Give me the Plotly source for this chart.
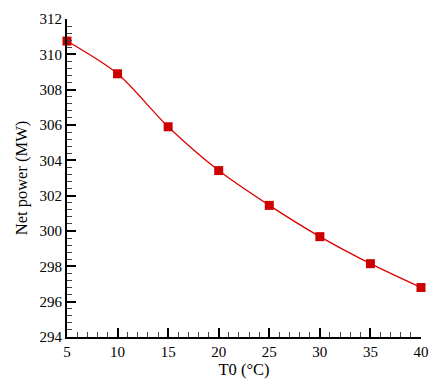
import plotly.graph_objects as go

# Ambient temperature (°C) and net power output (MW)
t0 = [5, 10, 15, 20, 25, 30, 35, 40]
net_power = [310.75, 308.9, 305.9, 303.42, 301.45, 299.68, 298.15, 296.8]

fig = go.Figure()
fig.add_trace(go.Scatter(
    x=t0, y=net_power,
    mode="lines+markers",
    line=dict(color="#DD0000", width=1.3, shape="spline", smoothing=0.8),
    marker=dict(symbol="square", size=9, color="#CC0000", line=dict(width=0)),
    showlegend=False,
    cliponaxis=False,
))

tick_font = dict(family="Liberation Serif", size=15, color="black")
title_font = dict(family="Liberation Serif", size=16.5, color="black")

fig.update_xaxes(
    range=[5, 40], tickvals=[5, 10, 15, 20, 25, 30, 35, 40],
    ticks="inside", ticklen=9, tickwidth=1.5, tickcolor="black",
    minor=dict(ticks="inside", dtick=1, ticklen=5, tickwidth=1, tickcolor="#444"),
    showline=True, linecolor="black", linewidth=2,
    showgrid=False, zeroline=False,
    tickfont=tick_font,
    title=dict(text="T0 (°C)", font=title_font, standoff=0),
)
fig.update_yaxes(
    range=[294, 312], dtick=2,
    ticks="inside", ticklen=9, tickwidth=1.5, tickcolor="black",
    minor=dict(ticks="inside", dtick=0.4, ticklen=5, tickwidth=1, tickcolor="#444"),
    showline=True, linecolor="black", linewidth=2,
    showgrid=False, zeroline=False,
    tickfont=tick_font,
    title=dict(text="Net power (MW)", font=title_font, standoff=8),
)

fig.update_layout(
    width=440, height=383,
    margin=dict(l=67, r=11, t=13, b=39),
    plot_bgcolor="white", paper_bgcolor="white",
)

fig.write_html("out.html")
